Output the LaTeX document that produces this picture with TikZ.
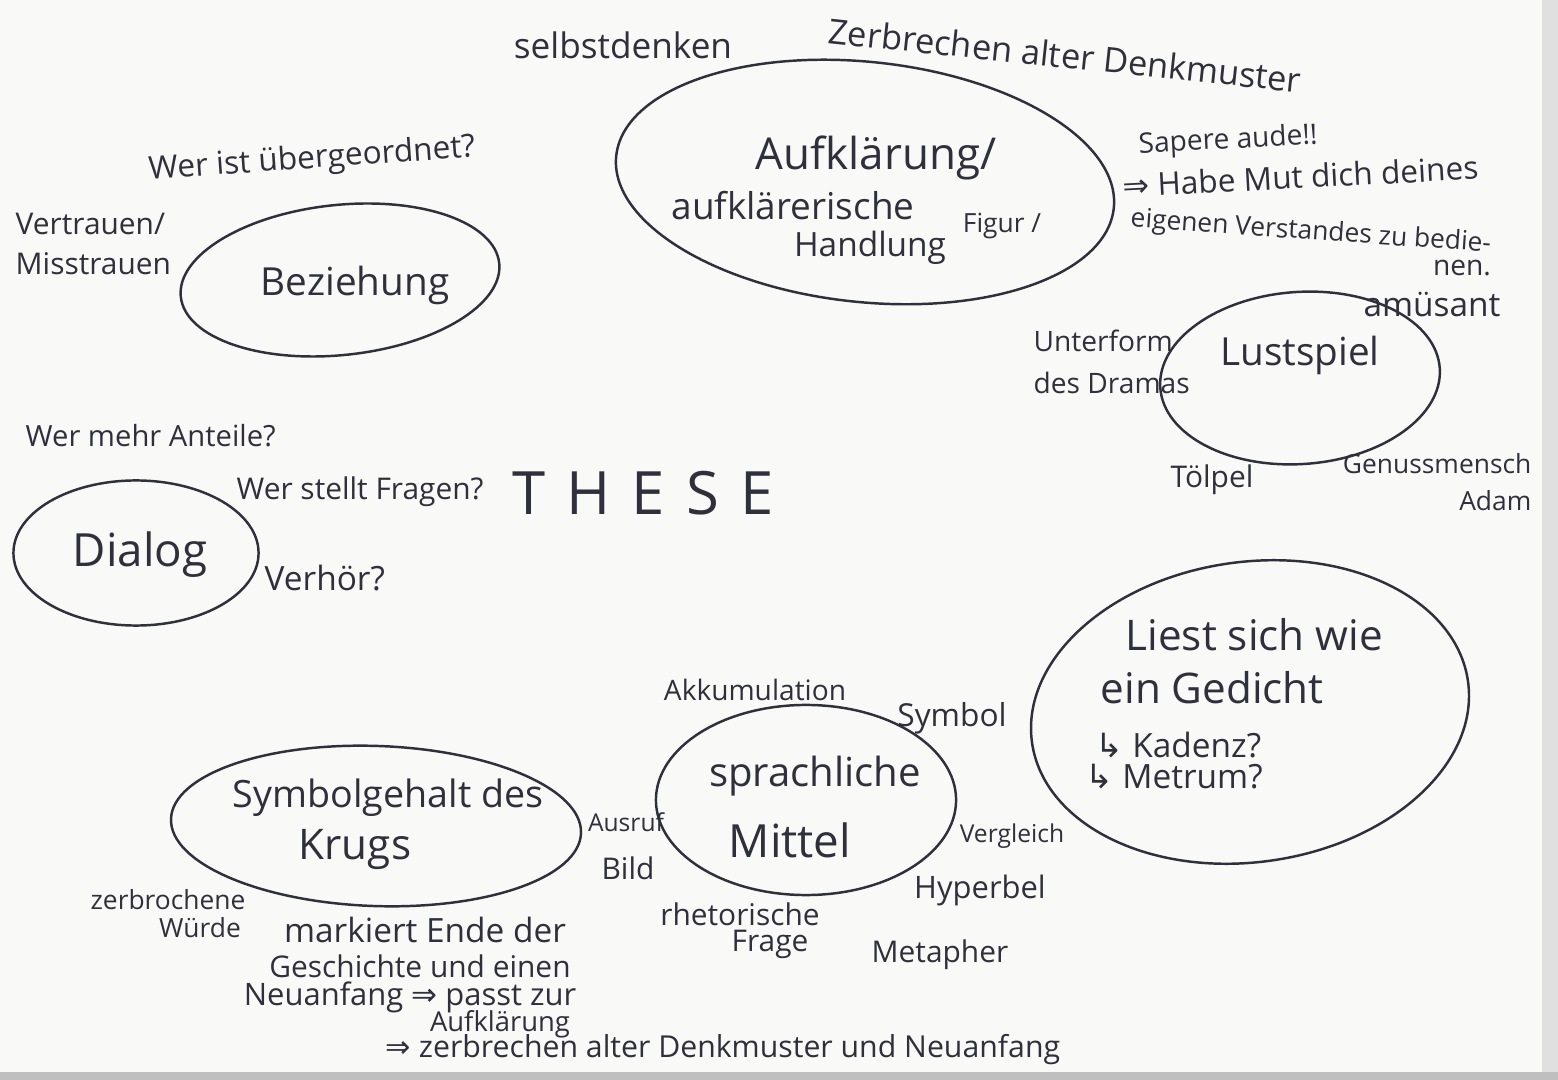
\documentclass[tikz,border=0pt]{standalone}
\usepackage{fontspec}
\setmainfont{Open Sans}
\newfontfamily\symf{DejaVu Sans}
\usetikzlibrary{shapes.geometric}
\definecolor{ink}{RGB}{48,48,60}
\definecolor{paper}{RGB}{249,249,247}
\newcommand{\Ar}{{\symf ⇒}}
\newcommand{\Hk}{{\symf ↳}}
\begin{document}
\begin{tikzpicture}[x=0.01cm,y=-0.01cm,
  lbl/.style={text=ink, inner sep=0pt, align=center},
  fsz/.style={font=\fontsize{#1}{#1}\selectfont},
  bubble/.style={draw=ink, line width=0.7pt, ellipse, inner sep=0pt}]
\fill[paper] (0,0) rectangle (1558,1080);
\fill[black!12] (1542,0) rectangle (1558,1080);
\fill[black!25] (0,1072) rectangle (1558,1080);
\useasboundingbox (0,0) rectangle (1558,1080);

% bubbles
\node[bubble, minimum width=5cm, minimum height=2.4cm, rotate=-6] (auf) at (865,182) {};
\node[bubble, minimum width=3.2cm, minimum height=1.5cm, rotate=6] (bez) at (340,280) {};
\node[bubble, minimum width=2.8cm, minimum height=1.72cm, rotate=4] (lust) at (1300,378) {};
\node[bubble, minimum width=2.45cm, minimum height=1.45cm] (dia) at (136,553) {};
\node[bubble, minimum width=4.4cm, minimum height=3.0cm, rotate=8] (ged) at (1250,712) {};
\node[bubble, minimum width=4.1cm, minimum height=1.6cm, rotate=-2] (sym) at (376,826) {};
\node[bubble, minimum width=3.0cm, minimum height=1.9cm] (spr) at (806,800) {};

% main labels
\node[lbl, fsz=12.5] (tAuf1) at (876,158) {Aufklärung/};
\node[lbl, fsz=10.5] (tAuf2) at (793,206) {aufklärerische};
\node[lbl, fsz=7.5] (tAuf3) at (1002,226) {Figur /};
\node[lbl, fsz=9.5] (tAuf4) at (870,248) {Handlung};
\node[lbl, fsz=11] (tBez) at (355,285) {Beziehung};
\node[lbl, fsz=11] (tLust) at (1300,355) {Lustspiel};
\node[lbl, fsz=13] (tDia) at (140,555) {Dialog};
\node[lbl, fsz=12, align=left, anchor=west] (tGed1) at (1125,635) {Liest sich wie};
\node[lbl, fsz=12, align=left, anchor=west] (tGed2) at (1100,688) {ein Gedicht};
\node[lbl, fsz=9.5, align=left, anchor=west] (tGed3) at (1095,745) {\Hk\ Kadenz?};
\node[lbl, fsz=9.5, align=left, anchor=west] (tGed4) at (1085,777) {\Hk\ Metrum?};
\node[lbl, fsz=10.7] (tSym1) at (388,798) {Symbolgehalt des};
\node[lbl, fsz=12] (tSym2) at (355,850) {Krugs};
\node[lbl, fsz=11.4] (tSpr1) at (815,776) {sprachliche};
\node[lbl, fsz=13] (tSpr2) at (790,840) {Mittel};

% annotations
\node[lbl, fsz=10] (a1) at (623,45) {selbstdenken};
\node[lbl, fsz=9.8, rotate=-6] (a2) at (1065,55) {Zerbrechen alter Denkmuster};
\node[lbl, fsz=8, rotate=3, anchor=west] (a3) at (1138,146) {Sapere aude!!};
\node[lbl, fsz=9, rotate=3, anchor=west] (a4) at (1122,186) {\Ar\ Habe Mut dich deines};
\node[lbl, fsz=7.5, rotate=-4, anchor=west] (a5) at (1130,220) {eigenen Verstandes zu bedie-};
\node[lbl, fsz=8] (a6) at (1462,268) {nen.};
\node[lbl, fsz=9.5] (a7) at (1432,305) {amüsant};
\node[lbl, fsz=8, align=left, anchor=west] (a8) at (1033,362) {Unterform\\[4pt]des Dramas};
\node[lbl, fsz=8.5] (a9) at (1212,480) {Tölpel};
\node[lbl, fsz=7.5, align=right, anchor=east] (a10) at (1532,482) {Genussmensch\\[3pt]Adam};
\node[lbl, fsz=9, rotate=4] (a11) at (312,160) {Wer ist übergeordnet?};
\node[lbl, fsz=8.5, align=left, anchor=west] (a12) at (15,244) {Vertrauen/\\[3pt]Misstrauen};
\node[lbl, fsz=8.3, anchor=west] (a13) at (25,436) {Wer mehr Anteile?};
\node[lbl, fsz=8.5, anchor=west] (a14) at (236,492) {Wer stellt Fragen?};
\node[lbl, fsz=17] (a15) at (643,493) {T\hspace{6pt}H\hspace{6pt}E\hspace{6pt}S\hspace{6pt}E};
\node[lbl, fsz=9.5, anchor=west] (a16) at (264,578) {Verhör?};
\node[lbl, fsz=8] (a17) at (755,690) {Akkumulation};
\node[lbl, fsz=9] (a18) at (952,718) {Symbol};
\node[lbl, fsz=7] (a19) at (626,822) {Ausruf};
\node[lbl, fsz=8.5] (a20) at (628,868) {Bild};
\node[lbl, fsz=7] (a21) at (1012,836) {Vergleich};
\node[lbl, fsz=8.8] (a22) at (980,890) {Hyperbel};
\node[lbl, fsz=8.5] (a23) at (940,955) {Metapher};
\node[lbl, fsz=8.5] (a24) at (740,914) {rhetorische};
\node[lbl, fsz=8.5] (a25) at (770,944) {Frage};
\node[lbl, fsz=7.5] (a26) at (168,900) {zerbrochene};
\node[lbl, fsz=7.5] (a27) at (200,928) {Würde};
\node[lbl, fsz=9.5] (a28) at (425,930) {markiert Ende der};
\node[lbl, fsz=8.5] (a29) at (420,966) {Geschichte und einen};
\node[lbl, fsz=8.8] (a30) at (410,997) {Neuanfang \Ar\ passt zur};
\node[lbl, fsz=7.8] (a31) at (500,1024) {Aufklärung};
\node[lbl, fsz=8.6, anchor=west] (a32) at (385,1050) {\Ar\ zerbrechen alter Denkmuster und Neuanfang};
\end{tikzpicture}
\end{document}
